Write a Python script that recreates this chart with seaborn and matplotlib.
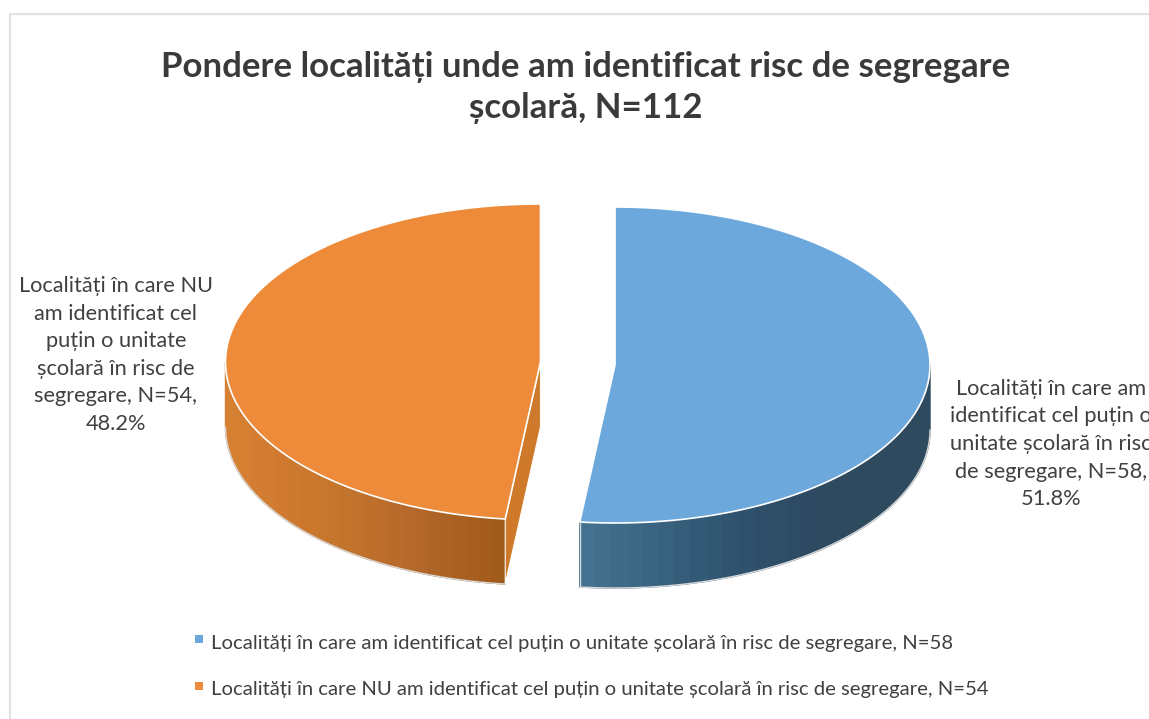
"""Exploded 3D-look pie of localities with school segregation risk."""

import matplotlib.pyplot as plt
import numpy as np
import seaborn as sns

TITLE = "Pondere localități unde am identificat risc de segregare\nșcolară, N=112"
counts = [58, 54]
shares = [51.8, 48.2]
top_colors = ["#6CA8DC", "#ED8B3A"]
wall_blue = ["#44718F", "#3C6684", "#325A76", "#2E4F6B", "#2D4A62", "#2E4A5F", "#2E4A5F"]
wall_orange = ["#D58033", "#CF7A30", "#C5752C", "#BA6C2C", "#AC6226", "#A05A1C"]
inner_wall = "#CF7A2A"
slice_labels = [
    "Localități în care am\nidentificat cel puțin o\nunitate școlară în risc\nde segregare, N=58,\n51.8%",
    "Localități în care NU\nam identificat cel\npuțin o unitate\nșcolară în risc de\nsegregare, N=54,\n48.2%",
]
legend_labels = [
    "Localități în care am identificat cel puțin o unitate școlară în risc de segregare, N=58",
    "Localități în care NU am identificat cel puțin o unitate școlară în risc de segregare, N=54",
]

sns.set_theme(style="white")
plt.rcParams["font.family"] = ["Lato", "Noto Sans", "DejaVu Sans"]

W, H = 1149, 719
RX, RY, DEPTH = 315, 158, 65
TEXT = "#404040"


def rim(cx, cy, start, stop, drop=0):
    # angles in degrees, clockwise from 12 o'clock
    t = np.radians(np.linspace(start, stop, 200))
    return cx + RX * np.sin(t), cy - RY * np.cos(t) + drop


def draw_wall(ax, cx, cy, start, stop, stops):
    # bands are even in screen x, the way the shading falls on the wall
    bands = sns.blend_palette(stops, n_colors=22)
    xa, xb = np.sin(np.radians([start, stop]))
    edges = 180 - np.degrees(np.arcsin(np.linspace(xa, xb, len(bands) + 1)))
    for a, b, col in zip(edges[:-1], edges[1:], bands):
        x, y = rim(cx, cy, a, b)
        x2, y2 = rim(cx, cy, a, b, DEPTH)
        ax.fill(np.r_[x, x2[::-1]], np.r_[y, y2[::-1]], color=col, lw=1)
    x, y = rim(cx, cy, start, stop, DEPTH)
    ax.plot(x, y, color="#D9D9D9", lw=1)


fig, ax = plt.subplots(figsize=(W / 100, H / 100), dpi=100)
ax.set_position([0, 0, 1, 1])
ax.set_xlim(0, W)
ax.set_ylim(H, 0)
ax.axis("off")

# chart frame, only the top and left edges are in the crop
ax.plot([10, 10, W], [H, 14, 14], color="#E3E3E3", lw=1.6)

split = 360 * counts[0] / sum(counts)

# orange slice, pulled to the left
ox, oy = 540.5, 362
draw_wall(ax, ox, oy, 270, split, wall_orange)
ex, ey = rim(ox, oy, split, split)
ax.fill([ox, ex[0], ex[0], ox], [oy, ey[0], ey[0] + DEPTH, oy + DEPTH],
        color=inner_wall, ec="white", lw=0.8)
x, y = rim(ox, oy, split, 360)
ax.fill(np.r_[ox, x], np.r_[oy, y], color=top_colors[1], ec="white", lw=1.2)

# blue slice, pulled to the right
bx, by = 615, 365
draw_wall(ax, bx, by, split, 90, wall_blue)
ex, ey = rim(bx, by, split, split)
ax.plot([ex[0], ex[0]], [ey[0], ey[0] + DEPTH], color="#D9D9D9", lw=1)
x, y = rim(bx, by, 0, split)
ax.fill(np.r_[bx, x], np.r_[by, y], color=top_colors[0], ec="white", lw=1.2)

ax.text(586, 87.5, TITLE, ha="center", va="center", fontsize=25.1, fontweight="bold",
        color="#3A3A3A", linespacing=1.33)

ax.text(1051, 444, slice_labels[0], ha="center", va="center", fontsize=15.7, color=TEXT,
        linespacing=1.47, clip_on=True)
ax.text(116, 355, slice_labels[1], ha="center", va="center", fontsize=15.7, color=TEXT,
        linespacing=1.47)

sns.scatterplot(x=[199, 199], y=[639, 686], hue=legend_labels, palette=top_colors, marker="s",
                s=30, linewidth=0, legend=False, ax=ax)
ax.set_xlim(0, W)
ax.set_ylim(H, 0)
for ypos, label in zip([643, 690], legend_labels):
    ax.text(211, ypos, label, ha="left", va="center", fontsize=14.6, color=TEXT)

fig.savefig("out.png", dpi=100)
plt.close(fig)
